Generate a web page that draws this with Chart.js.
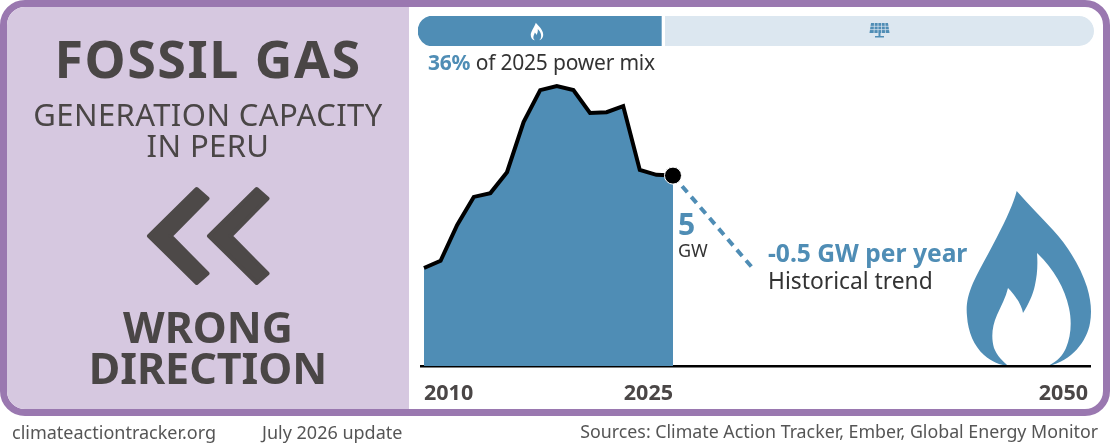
<!DOCTYPE html>
<html>
<head>
<meta charset="utf-8">
<script src="https://cdn.jsdelivr.net/npm/chart.js"></script>
<style>
html,body{margin:0;padding:0;background:#fff;}
body{width:1110px;height:444px;position:relative;overflow:hidden;font-family:"Noto Sans",sans-serif;color:#4a4646;}
.t{position:absolute;white-space:nowrap;line-height:1;}
.c{text-align:center;left:7px;width:402px;}
b{font-weight:700;}
#frame{position:absolute;left:0;top:0;width:1096px;height:402px;border:7px solid #9a78b0;border-radius:25px;overflow:hidden;}
#panel{position:absolute;left:0;top:0;width:402px;height:402px;background:#d6c8e0;}
canvas{position:absolute;}
svg{position:absolute;left:0;top:0;}
.blue{color:#4f8db5;}
.dark{color:#333;}
.foot{top:423px;font-size:18px;color:#555;}
</style>
</head>
<body>
<div id="frame"><div id="panel"></div></div>

<svg width="1110" height="444" viewBox="0 0 1110 444">
  <defs>
    <path id="flame" d="M1016.7 191 C1028 204 1041 217 1053 230 C1068 246 1081 268 1087 287 C1091 300 1092 312 1090 323 C1087 341 1072 361 1048 366 C1058 361 1063 355 1066 348 C1071 336 1072 322 1069 308 C1065 288 1053 268 1037 253 C1038 266 1037 276 1035 285 C1033 295 1028 305 1023 313 C1022 306 1016 296 1008 288 C1006 297 1001 306 997 315 C992 326 991 338 994 348 C997 356 1003 361 1008 366 C1000 365 992 362 984 355 C974 346 968 332 967 316 C966 306 967 297 973 283 C980 268 989 253 997 237 C1006 220 1014 202 1016.7 191 Z"/>
  </defs>
  <g fill="#4d4948" stroke="#4d4948" stroke-width="4" stroke-linejoin="round">
    <polygon points="149,236 196.7,189 207.5,198.5 170.5,236 207.5,273.5 196.7,283"/>
    <polygon points="209,236 256.7,189 267.5,198.5 230.5,236 267.5,273.5 256.7,283"/>
  </g>
  <use href="#flame" fill="#4f8db5"/>
</svg>

<canvas id="mix" width="676" height="30" style="left:418px;top:16px"></canvas>
<svg width="1110" height="444" viewBox="0 0 1110 444">
  <use href="#flame" fill="#fff" transform="translate(537 31.5) scale(0.1) translate(-1029 -278.5)"/>
  <g fill="#4f8db5">
    <polygon points="871,23 888,23 889.5,33 869.5,33"/>
    <rect x="878.5" y="33" width="2" height="3"/>
    <rect x="875" y="36" width="9" height="1.5"/>
  </g>
  <g stroke="#dce7f0" stroke-width="0.7" fill="none">
    <path d="M870 26.3H889M870 29.6H889M874.5 23L874 33M878 23V33M881.5 23V33M885 23L885.5 33"/>
  </g>
</svg>
<canvas id="chart" width="1110" height="444" style="left:0;top:0"></canvas>

<div class="t c" style="top:32px;font-size:52px;font-weight:700;letter-spacing:1.5px;">FOSSIL GAS</div>
<div class="t c" style="top:99px;font-size:31px;letter-spacing:0.4px;">GENERATION CAPACITY</div>
<div class="t c" style="top:130px;font-size:31px;letter-spacing:0.4px;">IN PERU</div>
<div class="t c" style="top:305px;font-size:43px;font-weight:700;">WRONG</div>
<div class="t c" style="top:346px;font-size:43px;font-weight:700;">DIRECTION</div>

<div class="t dark" style="left:428px;top:52px;font-size:21px;letter-spacing:-0.2px;"><b class="blue">36%</b> of 2025 power mix</div>
<div class="t blue" style="left:678px;top:209px;font-size:30px;font-weight:700;">5</div>
<div class="t dark" style="left:678px;top:241px;font-size:18px;">GW</div>
<div class="t blue" style="left:768px;top:241px;font-size:24.6px;font-weight:700;">-0.5 GW per year</div>
<div class="t dark" style="left:768px;top:270px;font-size:22.8px;">Historical trend</div>

<div class="t foot" style="left:12px;">climateactiontracker.org</div>
<div class="t foot" style="left:262px;">July 2026 update</div>
<div class="t foot" style="right:12px;font-size:17.8px;">Sources: Climate Action Tracker, Ember, Global Energy Monitor</div>

<script>
const years = [2010,2011,2012,2013,2014,2015,2016,2017,2018,2019,2020,2021,2022,2023,2024,2025]
const capacity = [2.58,2.77,3.71,4.45,4.55,5.1,6.42,7.26,7.37,7.26,6.66,6.68,6.84,5.16,5.03,5.01]
const trendYears = [2025,2029.75]
const trendValues = [5.01,2.6]
const tickYears = [2010,2025,2050]
const mixShare = [36]
const mixRest = [64]

const blue = "#4f8db5"
const textColor = "#4a4646"

function pairs(xs, ys){
    return xs.map((x,i) => ({x:x,y:ys[i]}))
}

// first label sits right of its tick, the others left of it
const tickAlign = {
    id:"tickAlign",
    beforeDraw(chart){
        chart.scales.x.getLabelItems().forEach((item,i) => {
            item.options.textAlign = i == 0 ? "left" : "right"
        })
    }
}

new Chart(document.getElementById("mix"), {
    type:"bar",
    data:{
        labels:["share"],
        datasets:[
            {data:mixShare,backgroundColor:blue,borderSkipped:false,borderWidth:0,borderRadius:{topLeft:15,bottomLeft:15}},
            {data:mixRest,backgroundColor:"#dce7f0",borderColor:"#fff",borderSkipped:false,borderWidth:{left:4},borderRadius:{topRight:15,bottomRight:15}}
        ]
    },
    options:{
        indexAxis:"y",
        responsive:false,
        animation:false,
        layout:{padding:0},
        plugins:{legend:{display:false},tooltip:{enabled:false}},
        datasets:{bar:{barPercentage:1,categoryPercentage:1}},
        scales:{
            x:{display:false,stacked:true,min:0,max:100},
            y:{display:false,stacked:true}
        }
    }
})

new Chart(document.getElementById("chart"), {
    type:"line",
    plugins:[tickAlign],
    data:{
        datasets:[
            {
                label:"latest",
                data:pairs(years.slice(-1),capacity.slice(-1)),
                pointRadius:8.5,
                pointBackgroundColor:"#000",
                pointBorderColor:"#fff",
                pointBorderWidth:1,
                showLine:false,
                order:0
            },
            {
                label:"capacity",
                data:pairs(years,capacity),
                borderColor:"#000",
                borderWidth:4,
                backgroundColor:blue,
                fill:"origin",
                pointRadius:0,
                tension:0,
                order:2
            },
            {
                label:"trend",
                data:pairs(trendYears,trendValues),
                borderColor:blue,
                borderWidth:4,
                borderDash:[8,6],
                pointRadius:0,
                order:1
            }
        ]
    },
    options:{
        responsive:false,
        animation:false,
        layout:{padding:{left:421,right:20,top:62,bottom:0}},
        plugins:{legend:{display:false},tooltip:{enabled:false}},
        scales:{
            x:{
                type:"linear",
                min:2009.82,
                max:2050.12,
                afterBuildTicks:(s) => {s.ticks = tickYears.map(v => ({value:v}))},
                afterFit:(s) => {s.height = 78;s.paddingLeft = 0;s.paddingRight = 0},
                grid:{display:false},
                border:{color:"#000",width:2.5},
                ticks:{
                    autoSkip:false,
                    maxRotation:0,
                    padding:7,
                    color:textColor,
                    font:{family:"Noto Sans",size:21.5,weight:"bold"},
                    callback:(v) => String(v)
                }
            },
            y:{display:false,min:0,max:8}
        }
    }
})
</script>
</body>
</html>
